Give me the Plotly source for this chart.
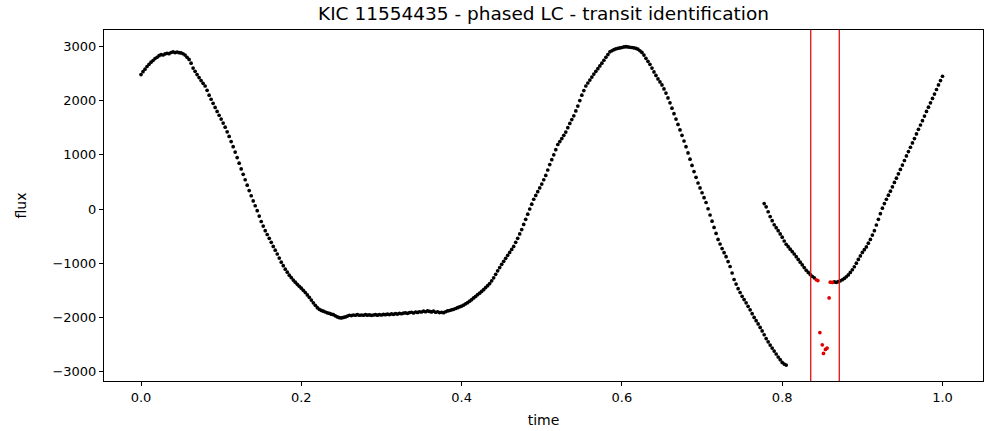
import numpy as np
import plotly.graph_objects as go

# ---- data ----
title_text = "KIC 11554435 - phased LC - transit identification"
x_label = "time"
y_label = "flux"

# main branch: phase 0.000 .. 0.805, step 0.0025
main_start, main_step = 0.0, 0.0025
main_flux = [
    2480, 2535, 2580, 2630, 2670, 2710, 2740, 2775, 2800, 2830,
    2850, 2842, 2862, 2874, 2866, 2888, 2898, 2886, 2896, 2884,
    2880, 2865, 2840, 2800, 2760, 2690, 2600, 2540, 2480, 2425,
    2370, 2320, 2270, 2190, 2100, 2025, 1950, 1875, 1800, 1730,
    1660, 1585, 1510, 1425, 1340, 1245, 1150, 1050, 950, 845,
    740, 640, 540, 440, 340, 245, 150, 60, -30, -130,
    -230, -315, -400, -470, -540, -615, -690, -760, -830, -905,
    -980, -1045, -1110, -1165, -1220, -1265, -1310, -1350, -1390, -1425,
    -1460, -1500, -1540, -1585, -1630, -1680, -1730, -1775, -1820, -1850,
    -1870, -1885, -1900, -1915, -1925, -1940, -1950, -1970, -1990, -2005,
    -2010, -2000, -1990, -1975, -1960, -1965, -1955, -1960, -1950, -1960,
    -1955, -1960, -1950, -1958, -1952, -1962, -1955, -1950, -1958, -1948,
    -1955, -1945, -1950, -1940, -1948, -1935, -1942, -1930, -1938, -1925,
    -1932, -1920, -1915, -1925, -1910, -1905, -1918, -1900, -1908, -1895,
    -1900, -1885, -1895, -1880, -1890, -1898, -1885, -1905, -1895, -1910,
    -1905, -1912, -1895, -1880, -1872, -1860, -1850, -1835, -1820, -1805,
    -1790, -1772, -1750, -1728, -1700, -1672, -1640, -1612, -1580, -1552,
    -1520, -1488, -1450, -1415, -1375, -1325, -1270, -1205, -1140, -1080,
    -1020, -965, -910, -855, -800, -745, -690, -615, -540, -460,
    -380, -285, -190, -95, 0, 90, 180, 250, 320, 390,
    460, 540, 620, 720, 820, 910, 1000, 1095, 1190, 1245,
    1300, 1360, 1420, 1500, 1580, 1650, 1720, 1810, 1900, 2000,
    2100, 2185, 2270, 2325, 2380, 2435, 2490, 2540, 2590, 2640,
    2690, 2745, 2800, 2850, 2900, 2920, 2940, 2955, 2965, 2972,
    2980, 2990, 2995, 2990, 2985, 2980, 2975, 2965, 2950, 2920,
    2890, 2840, 2780, 2725, 2670, 2600, 2530, 2465, 2400, 2345,
    2290, 2215, 2140, 2050, 1960, 1860, 1760, 1660, 1560, 1460,
    1360, 1255, 1150, 1035, 920, 805, 690, 585, 480, 390,
    300, 210, 120, 5, -110, -225, -340, -450, -560, -645,
    -730, -805, -880, -970, -1060, -1180, -1300, -1385, -1470, -1540,
    -1610, -1670, -1730, -1795, -1860, -1930, -2000, -2060, -2120, -2185,
    -2250, -2320, -2390, -2450, -2510, -2565, -2620, -2675, -2730, -2780,
    -2830, -2860, -2880,
]

# second branch before the transit: phase 0.7775 .. 0.840
pre_start, pre_step = 0.7775, 0.0025
pre_flux = [
    100, 40, -50, -140, -215, -290, -345, -400, -460, -520,
    -590, -650, -695, -740, -785, -830, -880, -930, -980, -1030,
    -1080, -1130, -1170, -1210, -1240, -1270,
]

# second branch after the transit: phase 0.865 .. 1.000
post_start, post_step = 0.865, 0.0025
post_flux = [
    -1345, -1352, -1340, -1325, -1305, -1280, -1250, -1215, -1170, -1120,
    -1065, -1000, -930, -865, -800, -750, -700, -630, -560, -480,
    -400, -295, -190, -85, 15, 100, 180, 255, 330, 410,
    490, 570, 650, 730, 810, 895, 980, 1060, 1140, 1220,
    1300, 1385, 1470, 1550, 1630, 1715, 1800, 1880, 1960, 2040,
    2120, 2205, 2290, 2370, 2450,
]

# in-transit points (red)
transit_time = [0.8425, 0.8445, 0.8470, 0.8500, 0.8515, 0.8540, 0.8560, 0.8585, 0.8600, 0.8625]
transit_flux = [-1305, -1320, -2280, -2505, -2665, -2590, -2565, -1640, -1350, -1355]

# transit window boundaries
transit_bounds = [0.8356, 0.8712]

# ---- build series ----
def seg(start, step, vals):
    return list(start + step * np.arange(len(vals))), vals

t1, f1 = seg(main_start, main_step, main_flux)
t2, f2 = seg(pre_start, pre_step, pre_flux)
t3, f3 = seg(post_start, post_step, post_flux)
black_t = t1 + t2 + t3
black_f = list(f1) + list(f2) + list(f3)

fig = go.Figure()
fig.add_trace(go.Scatter(
    x=black_t, y=black_f, mode="markers",
    marker=dict(color="black", size=3.7, line=dict(width=0)),
    showlegend=False, hoverinfo="skip"))
fig.add_trace(go.Scatter(
    x=transit_time, y=transit_flux, mode="markers",
    marker=dict(color="#e00000", size=3.7, line=dict(width=0)),
    showlegend=False, hoverinfo="skip"))

for b in transit_bounds:
    fig.add_vline(x=b, line=dict(color="#e01010", width=1.3), layer="above")

font_family = "DejaVu Sans"
fig.update_layout(
    width=986, height=431,
    margin=dict(l=104, r=3, t=30, b=50),
    paper_bgcolor="white", plot_bgcolor="white",
    font=dict(family=font_family, color="black", size=13),
    title=dict(text=title_text, x=0.5, xref="paper", xanchor="center",
               y=1 - 14 / 431, yanchor="middle", yref="container",
               font=dict(size=18.5, family=font_family, color="black")),
    showlegend=False,
)
fig.update_xaxes(
    range=[-0.04616, 1.05053], tickvals=[0, 0.2, 0.4, 0.6, 0.8, 1.0],
    ticktext=["0.0", "0.2", "0.4", "0.6", "0.8", "1.0"],
    showgrid=False, zeroline=False, showline=True, mirror=True,
    linecolor="black", linewidth=1, ticks="outside", ticklen=4,
    tickcolor="black", tickwidth=1,
    tickfont=dict(size=13, family=font_family, color="black"),
    title=dict(text=x_label, standoff=11, font=dict(size=14, family=font_family)),
)
fig.update_yaxes(
    range=[-3173, 3303], tickvals=[-3000, -2000, -1000, 0, 1000, 2000, 3000],
    showgrid=False, zeroline=False, showline=True, mirror=True,
    linecolor="black", linewidth=1, ticks="outside", ticklen=4,
    tickcolor="black", tickwidth=1,
    tickfont=dict(size=13, family=font_family, color="black"),
    title=dict(text=y_label, standoff=22, font=dict(size=14, family=font_family)),
)

fig.write_html("out.html")
